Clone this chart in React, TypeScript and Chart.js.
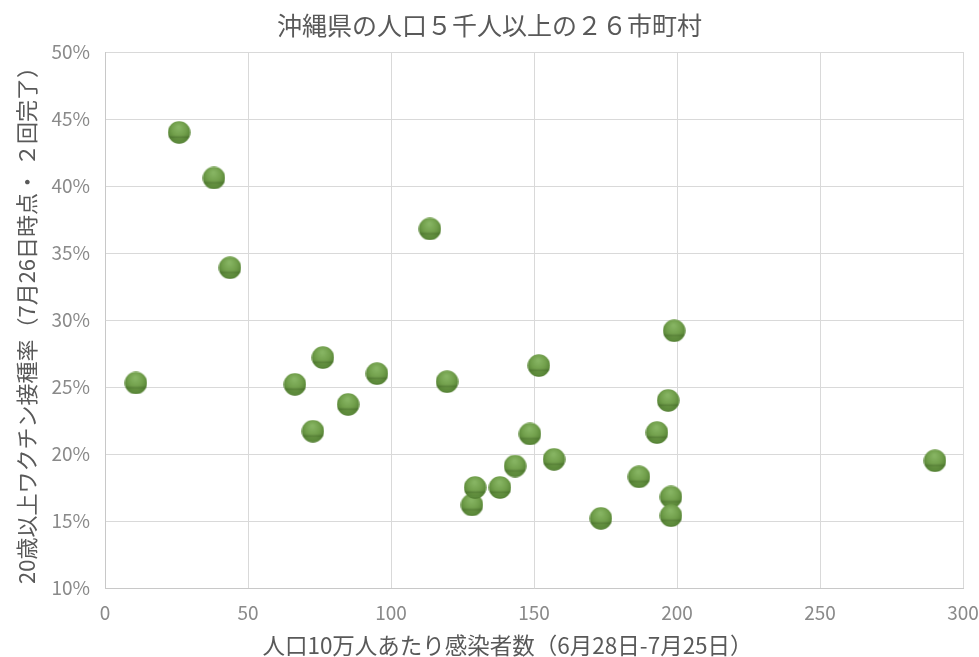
import React, { useEffect, useRef } from "react";
import { Chart, registerables } from "chart.js";
Chart.register(...registerables);

const titleText = "沖縄県の人口５千人以上の２６市町村";
const xTitle = "人口10万人あたり感染者数（6月28日-7月25日）";
const yTitle = "20歳以上ワクチン接種率（7月26日時点・ ２回完了）";

const infections = [10.8, 25.9, 38.1, 43.7, 66.4, 72.7, 76.2, 85.0, 95.1, 113.6, 119.6, 128.3, 129.4, 138.1, 143.4, 148.6, 151.7, 157.0, 173.4, 186.7, 193.0, 196.9, 197.9, 197.9, 199.0, 290.2];
const vaccination = [25.3, 44.0, 40.6, 33.9, 25.2, 21.7, 27.2, 23.7, 26.0, 36.8, 25.4, 16.2, 17.5, 17.5, 19.1, 21.5, 26.6, 19.6, 15.2, 18.3, 21.6, 24.0, 16.8, 15.4, 29.2, 19.5];

const xMin = 0, xMax = 300, xStep = 50;
const yMin = 10, yMax = 50, yStep = 5;

const FONT = "'Noto Sans CJK JP', 'Noto Sans', sans-serif";

function makeSphere(size: number): HTMLCanvasElement {
  const c = document.createElement("canvas");
  c.width = size;
  c.height = size;
  const ctx = c.getContext("2d")!;
  const r = size / 2;
  ctx.beginPath();
  ctx.arc(r, r, r - 0.3, 0, Math.PI * 2);
  ctx.closePath();
  const rad = ctx.createRadialGradient(r * 0.95, r * 0.55, r * 0.1, r, r * 0.85, r * 1.15);
  rad.addColorStop(0, "#86b462");
  rad.addColorStop(0.5, "#72a04c");
  rad.addColorStop(1, "#527f31");
  ctx.fillStyle = rad;
  ctx.fill();
  const lin = ctx.createLinearGradient(0, 0, 0, size);
  lin.addColorStop(0, "rgba(0,0,0,0)");
  lin.addColorStop(0.62, "rgba(0,0,0,0)");
  lin.addColorStop(0.72, "rgba(30,60,10,0.22)");
  lin.addColorStop(0.78, "rgba(30,60,10,0.04)");
  lin.addColorStop(0.9, "rgba(120,170,90,0.12)");
  lin.addColorStop(1, "rgba(30,60,10,0.15)");
  ctx.fillStyle = lin;
  ctx.fill();
  return c;
}

const xTitlePlugin = {
  id: "xTitleCustom",
  afterDraw(chart: any) {
    const ctx = chart.ctx;
    ctx.save();
    ctx.font = `22.5px ${FONT}`;
    ctx.fillStyle = "#595959";
    ctx.textAlign = "center";
    ctx.textBaseline = "middle";
    ctx.fillText(xTitle, chart.width / 2 + 18, chart.height - 12);
    ctx.restore();
  },
};

export default function App() {
  const ref = useRef<HTMLCanvasElement>(null);
  useEffect(() => {
    document.body.style.margin = "0";
    const sphere = makeSphere(23);
    const data = infections.map((x, i) => ({ x, y: vaccination[i] }));
    const chart = new Chart(ref.current!, {
      type: "scatter",
      data: {
        datasets: [
          {
            data,
            pointStyle: sphere as any,
            pointRadius: 11.5,
            pointHoverRadius: 11.5,
            backgroundColor: "#6a9a45",
            borderColor: "#4a772a",
          },
        ],
      },
      plugins: [xTitlePlugin],
      options: {
        animation: false,
        responsive: false,
        events: [],
        layout: { padding: { top: 0, right: 0, bottom: 0, left: 0 } },
        plugins: {
          legend: { display: false },
          tooltip: { enabled: false },
          title: {
            display: true,
            text: titleText,
            color: "#595959",
            font: { family: FONT, size: 25, weight: "normal" },
            padding: { top: 10, bottom: 12 },
          },
        },
        scales: {
          x: {
            type: "linear",
            min: xMin,
            max: xMax,
            ticks: { stepSize: xStep, color: "#8a8a8a", font: { family: FONT, size: 19 }, padding: 13 },
            grid: { color: "#d9d9d9", drawTicks: false },
            border: { color: "#c8c8c8" },
            title: { display: false, text: xTitle },
            afterFit: (s: any) => {
              s.height = 69;
              s.paddingRight = 16;
            },
          },
          y: {
            type: "linear",
            min: yMin,
            max: yMax,
            ticks: {
              stepSize: yStep,
              color: "#8a8a8a",
              font: { family: FONT, size: 19 },
              padding: 15,
              callback: (v: any) => v + "%",
            },
            grid: { color: "#d9d9d9", drawTicks: false },
            border: { color: "#c8c8c8" },
            title: {
              display: true,
              text: yTitle,
              color: "#595959",
              font: { family: FONT, size: 22 },
              padding: { top: 13, bottom: 0 },
            },
            afterFit: (s: any) => {
              s.width = 105;
            },
          },
        },
      },
    });
    return () => chart.destroy();
  }, []);
  return <canvas ref={ref} width={979} height={657} style={{ display: "block" }} />;
}
